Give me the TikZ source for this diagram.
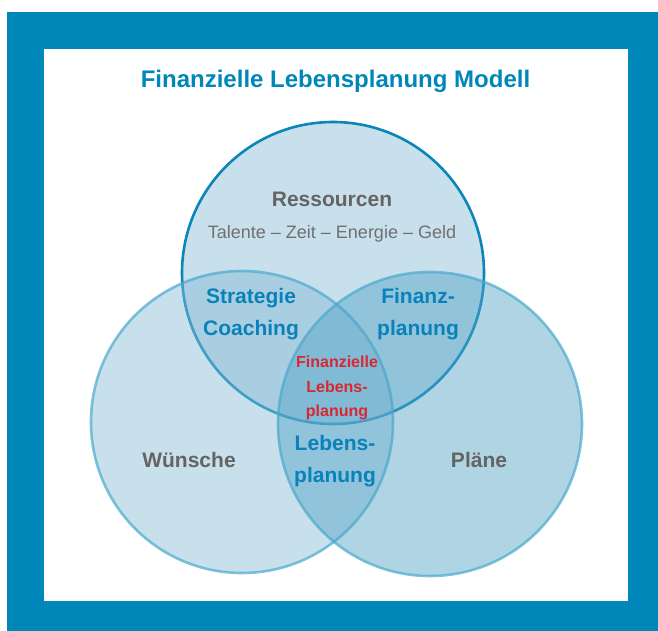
\documentclass[tikz,border=0pt]{standalone}
\usepackage{fontspec}
\setmainfont{Liberation Sans}
\definecolor{frameblue}{RGB}{0,135,185}
\definecolor{labelblue}{RGB}{8,130,185}
\definecolor{labelgray}{RGB}{100,100,100}
\definecolor{subgray}{RGB}{112,112,112}
\definecolor{labelred}{RGB}{218,38,50}
\definecolor{topfill}{RGB}{200,223,236}
\definecolor{topline}{RGB}{10,135,184}
\definecolor{leftfill}{RGB}{135,186,213}
\definecolor{rightfill}{RGB}{79,162,199}
\definecolor{sideline}{RGB}{75,170,205}
\begin{document}
\begin{tikzpicture}[x=1pt,y=-1pt,
  topcircle/.style={fill=topfill,draw=topline,line width=2.6pt},
  sidecircle/.style={draw=sideline,draw opacity=0.7,line width=2.6pt,fill opacity=0.45},
  title/.style={text=frameblue,font=\fontsize{24}{28}\selectfont\bfseries},
  setname/.style={text=labelgray,font=\fontsize{21}{25}\selectfont\bfseries},
  setsub/.style={text=subgray,font=\fontsize{18}{21}\selectfont},
  overlap/.style={text=labelblue,align=center,font=\fontsize{21}{32}\selectfont\bfseries},
  core/.style={text=labelred,align=center,font=\fontsize{16}{24.5}\selectfont\bfseries},
  inner sep=0pt]
  % page, frame and white panel
  \fill[white] (0,0) rectangle (658,631);
  \fill[frameblue] (7,12) rectangle (658,631);
  \fill[white] (44,49) rectangle (628,601);
  \useasboundingbox (0,0) rectangle (658,631);

  % the three sets
  \draw[topcircle] (333,273) circle[radius=151];
  \draw[sidecircle,fill=leftfill] (242,422) circle[radius=151];
  \draw[sidecircle,fill=rightfill] (430,424) circle[radius=152];

  % texts
  \node[title,anchor=base] (title) at (335.5,88) {Finanzielle Lebensplanung Modell};
  \node[setname,anchor=base] (ressourcen) at (332,207) {Ressourcen};
  \node[setsub,anchor=base] (mittel) at (332,238) {Talente – Zeit – Energie – Geld};
  \node[setname,anchor=base] (wuensche) at (189,467) {Wünsche};
  \node[setname,anchor=base] (plaene) at (479,467) {Pläne};
  \node[overlap] (strategie) at (251,314) {Strategie\\Coaching};
  \node[overlap] (finanz) at (418,314) {Finanz-\\planung};
  \node[overlap] (leben) at (335,461) {Lebens-\\planung};
  \node[core] (mitte) at (337,388) {Finanzielle\\Lebens-\\planung};
\end{tikzpicture}
\end{document}
